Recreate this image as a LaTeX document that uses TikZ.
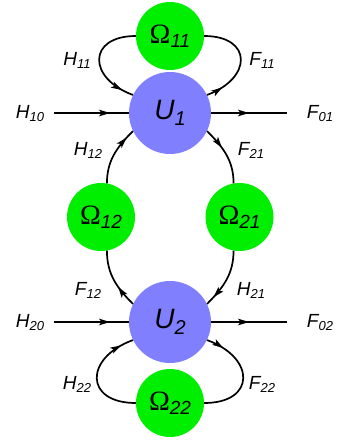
\documentclass[tikz,border=0pt]{standalone}
\usepackage{fontspec}
\setmainfont{Liberation Sans}
\newfontfamily\omegafont{Liberation Serif}
\usetikzlibrary{arrows.meta,decorations.markings}
\definecolor{ugreen}{RGB}{0,238,0}
\definecolor{ublue}{RGB}{128,128,255}
\newcommand\mylab[2]{\fontsize{19}{21}\selectfont\itshape #1\raisebox{-3pt}{\fontsize{13}{14}\selectfont #2}}
\newcommand\myulab[2]{\fontsize{28}{30}\selectfont\itshape #1\raisebox{-6pt}{\fontsize{20}{22}\selectfont #2}}
\newcommand\myolab[1]{{\omegafont\fontsize{28}{30}\selectfont Ω}\raisebox{-4pt}{\fontsize{19}{21}\selectfont\itshape #1}}
\begin{document}
\begin{tikzpicture}[x=1pt,y=1pt,
  unode/.style={circle,fill=ublue,minimum size=82pt,inner sep=0pt},
  onode/.style={circle,fill=ugreen,minimum size=68pt,inner sep=0pt},
  lbl/.style={inner sep=0pt},
  conn/.style={line width=1.7pt},
  marrow/.style={postaction={decorate,decoration={markings,
     mark=at position #1 with {\arrow{Stealth[length=11pt,width=6.5pt,inset=2.5pt]}}}}}
  ]
\useasboundingbox (0,0) rectangle (339,-445);
% nodes
\node[unode] (U1) at (170,-113) {\myulab{U}{1}};
\node[unode] (U2) at (170,-322) {\myulab{U}{2}};
\node[onode] (O11) at (170,-36) {\myolab{11}};
\node[onode] (O22) at (170,-403) {\myolab{22}};
\node[onode] (O12) at (101,-217) {\myolab{12}};
\node[onode] (O21) at (239.5,-217) {\myolab{21}};
% labels
\node[lbl] (lH10) at (30,-114) {\mylab{H}{10}};
\node[lbl] (lF01) at (320,-114) {\mylab{F}{01}};
\node[lbl] (lH20) at (30,-323) {\mylab{H}{20}};
\node[lbl] (lF02) at (320,-323) {\mylab{F}{02}};
\node[lbl] (lH11) at (77,-60) {\mylab{H}{11}};
\node[lbl] (lF11) at (262,-60) {\mylab{F}{11}};
\node[lbl] (lH12) at (88,-150) {\mylab{H}{12}};
\node[lbl] (lF21) at (251,-150) {\mylab{F}{21}};
\node[lbl] (lF12) at (88,-290) {\mylab{F}{12}};
\node[lbl] (lH21) at (251,-290) {\mylab{H}{21}};
\node[lbl] (lH22) at (77,-384) {\mylab{H}{22}};
\node[lbl] (lF22) at (262,-384) {\mylab{F}{22}};
% line ends
\coordinate (h10e) at (54,-113);
\coordinate (f01e) at (287,-113);
\coordinate (h20e) at (54,-322);
\coordinate (f02e) at (287,-322);
% horizontal connectors
\draw[conn,marrow=0.75] (h10e) -- (U1.west);
\draw[conn,marrow=0.5] (U1.east) -- (f01e);
\draw[conn,marrow=0.75] (h20e) -- (U2.west);
\draw[conn,marrow=0.5] (U2.east) -- (f02e);
% self loops
\draw[conn,marrow=0.88] (O11.west) to[out=180,in=160,looseness=2.1] (U1.154);
\draw[conn,marrow=0.17] (U1.26) to[out=20,in=0,looseness=2.1] (O11.east);
\draw[conn,marrow=0.88] (O22.west) to[out=180,in=200,looseness=2.1] (U2.206);
\draw[conn,marrow=0.17] (U2.334) to[out=-20,in=0,looseness=2.1] (O22.east);
% vertical arcs
\draw[conn,marrow=0.85] (O12.80) to[out=90,in=225] (U1.206);
\draw[conn,marrow=0.37] (U1.334) to[out=-45,in=90] (O21.100);
\draw[conn,marrow=0.37] (U2.154) to[out=135,in=-90] (O12.280);
\draw[conn,marrow=0.85] (O21.260) to[out=-90,in=45] (U2.26);
\end{tikzpicture}
\end{document}
